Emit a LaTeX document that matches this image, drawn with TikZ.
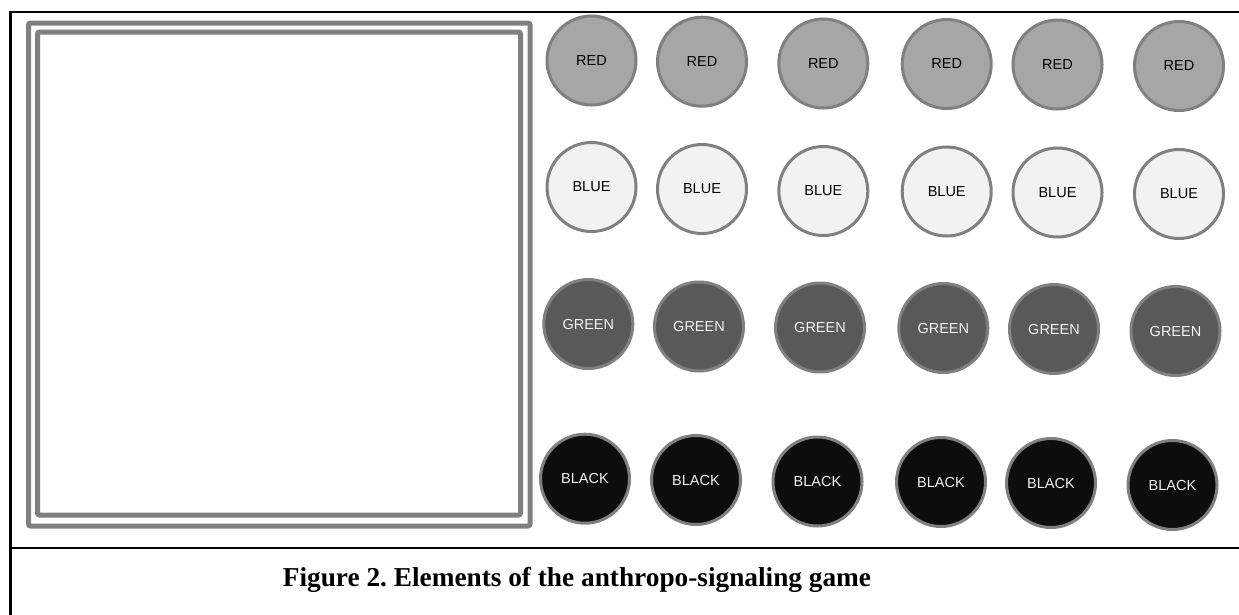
\documentclass[tikz,border=0pt]{standalone}
\usepackage{fontspec}
\setmainfont{Liberation Serif}
\newfontfamily\chipfont{Liberation Sans}
\definecolor{ringgray}{HTML}{808080}
\definecolor{redfill}{HTML}{A6A6A6}
\definecolor{bluefill}{HTML}{F2F2F2}
\definecolor{greenfill}{HTML}{595959}
\definecolor{blackfill}{HTML}{0D0D0D}
\frenchspacing
\begin{document}
\begin{tikzpicture}[x=1pt,y=-1pt,
  chip/.style={circle,draw=ringgray,line width=3pt,minimum size=89pt,inner sep=0pt,font=\chipfont\fontsize{14.5}{16}\selectfont},
  redchip/.style={chip,fill=redfill,text=black},
  bluechip/.style={chip,fill=bluefill,text=black},
  greenchip/.style={chip,fill=greenfill,text=bluefill},
  blackchip/.style={chip,fill=blackfill,text=bluefill},
  frameline/.style={line width=2.5pt,black},
  boardline/.style={line width=5pt,ringgray,rounded corners=2pt}]
\useasboundingbox (0,0) rectangle (1239,614);
% outer frame
\coordinate (tl) at (10.5,12);
\coordinate (tr) at (1240,12);
\coordinate (bl) at (10.5,615);
\coordinate (ml) at (10.5,548);
\coordinate (mr) at (1240,548);
\draw[frameline] (bl) -- (tl) -- (tr);
\draw[frameline] (ml) -- (mr);
% board
\draw[boardline] (28.5,23) rectangle (530,526);
\draw[boardline] (37.5,32) rectangle (520.5,515);
% chips
\foreach \i/\x/\y in {1/591.5/60.5,2/702/61.7,3/823.3/63.5,4/946.7/64,5/1057.5/64.5,6/1179/66}
  \node[redchip] (r\i) at (\x,\y) {RED};
\foreach \i/\x/\y in {1/591.5/187,2/702/189,3/823.3/191,4/946.7/191.5,5/1057.5/192.5,6/1179/194}
  \node[bluechip] (b\i) at (\x,\y) {BLUE};
\foreach \i/\x/\y in {1/588.3/324,2/699/326.5,3/820/327.5,4/943.3/328,5/1054/329,6/1175.5/331}
  \node[greenchip] (g\i) at (\x,\y) {GREEN};
\foreach \i/\x/\y in {1/585/478.7,2/696/480,3/817.5/481.5,4/941/482,5/1051/483,6/1172.5/485}
  \node[blackchip] (k\i) at (\x,\y) {BLACK};
% caption
\node[font=\bfseries\fontsize{27.3}{30}\selectfont] (cap) at (577,580) {Figure 2. Elements of the anthropo-signaling game};
\end{tikzpicture}
\end{document}
